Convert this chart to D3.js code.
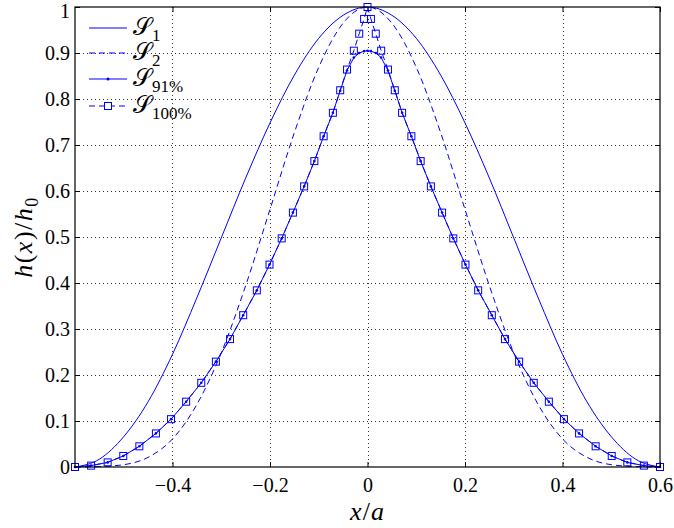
<!DOCTYPE html>
<html>
<head>
<meta charset="utf-8">
<script src="https://cdn.jsdelivr.net/npm/d3@7"></script>
<style>
  body { margin: 0; background: #fff; }
  svg text { fill: #000; }
</style>
</head>
<body>
<div id="graph-display"></div>
<script>
// values
const xTicks = [-0.4, -0.2, 0, 0.2, 0.4, 0.6];
const yTicks = [0, 0.1, 0.2, 0.3, 0.4, 0.5, 0.6, 0.7, 0.8, 0.9, 1];

// smooth curves S1 and S2
const curveX = [-0.6, -0.55, -0.5, -0.45, -0.4, -0.35, -0.3, -0.25, -0.2, -0.15, -0.1, -0.05, 0,
                0.05, 0.1, 0.15, 0.2, 0.25, 0.3, 0.35, 0.4, 0.45, 0.5, 0.55, 0.6];
const s1Y = [0, 0.017, 0.066, 0.142, 0.245, 0.368, 0.498, 0.628, 0.748, 0.852, 0.932, 0.982, 1,
             0.982, 0.932, 0.852, 0.748, 0.628, 0.498, 0.368, 0.245, 0.142, 0.066, 0.017, 0];
const s2Y = [0, 0.001, 0.005, 0.021, 0.061, 0.136, 0.248, 0.394, 0.56, 0.727, 0.869, 0.965, 1,
             0.965, 0.869, 0.727, 0.56, 0.394, 0.248, 0.136, 0.061, 0.021, 0.005, 0.001, 0];

// marker series S91% and S100%
const markX = [-0.6, -0.567, -0.533, -0.501, -0.468, -0.434, -0.403, -0.372, -0.341, -0.311, -0.282, -0.255,
               -0.227, -0.201, -0.176, -0.153, -0.13, -0.109, -0.09, -0.071, -0.056, -0.042, -0.028, -0.017, -0.007, 0,
               0.007, 0.017, 0.028, 0.042, 0.056, 0.071, 0.09, 0.109, 0.13, 0.153, 0.176, 0.201, 0.227,
               0.255, 0.282, 0.311, 0.341, 0.372, 0.403, 0.434, 0.468, 0.501, 0.533, 0.567, 0.6];
const s100Y = [0, 0.003, 0.01, 0.024, 0.045, 0.073, 0.104, 0.142, 0.183, 0.229, 0.278, 0.33,
               0.384, 0.44, 0.497, 0.553, 0.61, 0.665, 0.719, 0.77, 0.819, 0.864, 0.905, 0.942, 0.974, 1,
               0.974, 0.942, 0.905, 0.864, 0.819, 0.77, 0.719, 0.665, 0.61, 0.553, 0.497, 0.44, 0.384,
               0.33, 0.278, 0.229, 0.183, 0.142, 0.104, 0.073, 0.045, 0.024, 0.01, 0.003, 0];
const s91Y = [0, 0.003, 0.01, 0.024, 0.045, 0.073, 0.104, 0.142, 0.183, 0.229, 0.278, 0.33,
              0.384, 0.44, 0.497, 0.553, 0.61, 0.665, 0.719, 0.77, 0.818, 0.862, 0.89, 0.9, 0.904, 0.905,
              0.904, 0.9, 0.89, 0.862, 0.818, 0.77, 0.719, 0.665, 0.61, 0.553, 0.497, 0.44, 0.384,
              0.33, 0.278, 0.229, 0.183, 0.142, 0.104, 0.073, 0.045, 0.024, 0.01, 0.003, 0];

const legendNames = ["1", "2", "91%", "100%"];

const width = 674;
const height = 528;
const margin = {top: 7, right: 14, bottom: 61, left: 75};
const graphWidth = width - margin.left - margin.right;
const graphHeight = height - margin.top - margin.bottom;
const blue = '#0000ff';
const serif = '"Liberation Serif", "DejaVu Serif", serif';

const xScale = d3.scaleLinear().domain([-0.6, 0.6]).range([0, graphWidth]);
const yScale = d3.scaleLinear().domain([0, 1]).range([graphHeight, 0]);

const svg = d3.select('#graph-display')
    .append('svg')
    .attr('width', width)
    .attr('height', height)
    .style('display', 'block')
    .style('font-family', serif);

const graph = svg.append('g')
    .attr('transform', `translate(${margin.left}, ${margin.top})`);

// dotted grid
graph.append('g').selectAll('line')
    .data(xTicks.filter(d => d < 0.6))
    .enter().append('line')
    .attr('x1', d => Math.round(xScale(d)) + 0.5).attr('x2', d => Math.round(xScale(d)) + 0.5)
    .attr('y1', 0).attr('y2', graphHeight)
    .attr('stroke', '#333').attr('stroke-width', 1).attr('stroke-dasharray', '1,3');
graph.append('g').selectAll('line')
    .data(yTicks.filter(d => d > 0 && d < 1))
    .enter().append('line')
    .attr('x1', 0).attr('x2', graphWidth)
    .attr('y1', d => Math.round(yScale(d)) + 0.5).attr('y2', d => Math.round(yScale(d)) + 0.5)
    .attr('stroke', '#333').attr('stroke-width', 1).attr('stroke-dasharray', '1,3');

const fmt = d => d === 0 ? '0' : d3.format('.1f')(d).replace('-', '\u2212').replace(/^1\.0$/, '1');

// axes with inward ticks
const xAxis = d3.axisBottom(xScale).tickValues(xTicks).tickSizeInner(-5).tickSizeOuter(0)
    .tickPadding(11).tickFormat(fmt);
const yAxis = d3.axisLeft(yScale).tickValues(yTicks).tickSizeInner(-5).tickSizeOuter(0)
    .tickPadding(5).tickFormat(fmt);

graph.append('g')
    .attr('transform', `translate(0, ${graphHeight})`)
    .call(xAxis)
    .call(g => g.select('.domain').remove())
    .call(g => g.selectAll('text').style('font-family', serif).style('font-size', '20px'));
graph.append('g')
    .call(yAxis)
    .call(g => g.select('.domain').remove())
    .call(g => g.selectAll('text').style('font-family', serif).style('font-size', '20px'))
    .call(g => g.selectAll('.tick').filter(d => d === 1).select('text').attr('dy', '0.5em'));
graph.append('g')
    .call(d3.axisTop(xScale).tickValues(xTicks).tickSizeInner(-5).tickSizeOuter(0).tickFormat(''))
    .call(g => g.select('.domain').remove());
graph.append('g')
    .attr('transform', `translate(${graphWidth}, 0)`)
    .call(d3.axisRight(yScale).tickValues(yTicks).tickSizeInner(-5).tickSizeOuter(0).tickFormat(''))
    .call(g => g.select('.domain').remove());

// lines
const line = d3.line().x(d => xScale(d[0])).y(d => yScale(d[1]));
const smooth = d3.line().curve(d3.curveMonotoneX).x(d => xScale(d[0])).y(d => yScale(d[1]));

graph.append('path')
    .datum(curveX.map((x, i) => [x, s1Y[i]]))
    .attr('d', smooth).attr('fill', 'none').attr('stroke', blue).attr('stroke-width', 1);
graph.append('path')
    .datum(curveX.map((x, i) => [x, s2Y[i]]))
    .attr('d', smooth).attr('fill', 'none').attr('stroke', blue).attr('stroke-width', 1)
    .attr('stroke-dasharray', '6,4');

const s91 = markX.map((x, i) => [x, s91Y[i]]);
const s100 = markX.map((x, i) => [x, s100Y[i]]);

graph.append('path')
    .datum(s91)
    .attr('d', line).attr('fill', 'none').attr('stroke', blue).attr('stroke-width', 1);
graph.append('g').selectAll('circle')
    .data(s91).enter().append('circle')
    .attr('cx', d => xScale(d[0])).attr('cy', d => yScale(d[1])).attr('r', 1.3)
    .attr('fill', blue);

graph.append('path')
    .datum(s100)
    .attr('d', line).attr('fill', 'none').attr('stroke', blue).attr('stroke-width', 1)
    .attr('stroke-dasharray', '6,4');
graph.append('g').selectAll('rect')
    .data(s100).enter().append('rect')
    .attr('x', d => xScale(d[0]) - 3.5).attr('y', d => yScale(d[1]) - 3.5)
    .attr('width', 7).attr('height', 7)
    .attr('fill', 'none').attr('stroke', blue).attr('stroke-width', 1);

// box
graph.append('rect')
    .attr('x', 0).attr('y', 0).attr('width', graphWidth).attr('height', graphHeight)
    .attr('fill', 'none').attr('stroke', '#000').attr('stroke-width', 1.2);

// legend
const legend = graph.append('g').attr('transform', 'translate(14, 0)');
const rowY = [21, 46, 72, 99];
const dashes = [null, '6,4', null, '6,4'];
legendNames.forEach((n, i) => {
    const row = legend.append('g').attr('transform', `translate(0, ${rowY[i]})`);
    row.append('line').attr('x1', 0).attr('x2', 38).attr('y1', 0).attr('y2', 0)
        .attr('stroke', blue).attr('stroke-width', 1).attr('stroke-dasharray', dashes[i]);
    if (i === 2) row.append('circle').attr('cx', 19).attr('cy', 0).attr('r', 1.5).attr('fill', blue);
    if (i === 3) row.append('rect').attr('x', 15.5).attr('y', -3.5).attr('width', 7).attr('height', 7)
        .attr('fill', '#fff').attr('stroke', blue);
    const t = row.append('text').attr('x', 44).attr('y', 7).style('font-size', '24px');
    t.append('tspan').text('\uD835\uDCAE');
    t.append('tspan').attr('dy', 6).style('font-size', '17px').style('font-family', serif).text(n);
});

// axis labels
const xl = svg.append('text')
    .attr('x', margin.left + xScale(0)).attr('y', 520)
    .attr('text-anchor', 'middle').style('font-size', '26px').style('font-family', serif)
    .style('letter-spacing', '1px');
xl.append('tspan').style('font-style', 'italic').text('x');
xl.append('tspan').text('/');
xl.append('tspan').style('font-style', 'italic').text('a');

const yl = svg.append('text')
    .attr('transform', `translate(32, ${margin.top + graphHeight / 2}) rotate(-90)`)
    .attr('text-anchor', 'middle').style('font-size', '26px').style('font-family', serif)
    .style('letter-spacing', '1.5px');
yl.append('tspan').style('font-style', 'italic').text('h');
yl.append('tspan').text('(');
yl.append('tspan').style('font-style', 'italic').text('x');
yl.append('tspan').text(')/');
yl.append('tspan').style('font-style', 'italic').text('h');
yl.append('tspan').attr('dy', 6).style('font-size', '18px').text('0');
</script>
</body>
</html>
